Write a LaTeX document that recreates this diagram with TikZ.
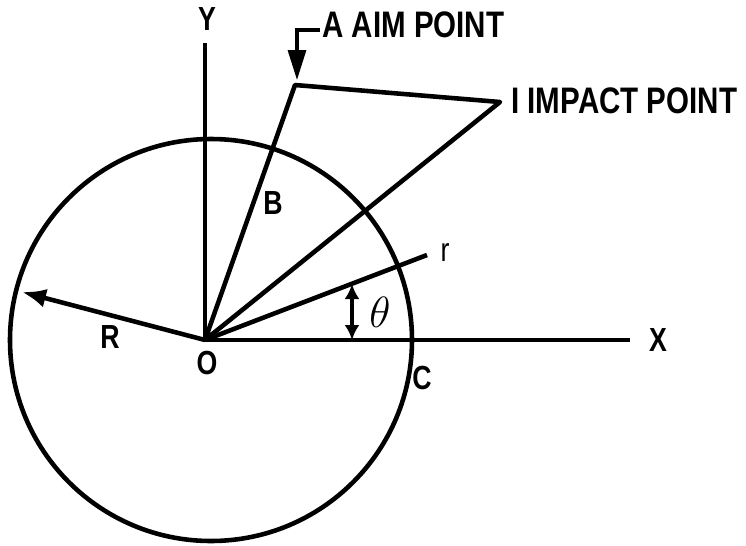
\documentclass[tikz,border=0pt]{standalone}
\usepackage{fontspec}
\newfontfamily\lblfont{Liberation Sans}[FakeStretch=0.8]
\usetikzlibrary{arrows.meta, positioning, calc}

\begin{document}
\begin{tikzpicture}[line width=2.6pt,
    lbl/.style={font=\lblfont\bfseries\fontsize{19}{19}\selectfont, inner sep=1pt},
    tag/.style={font=\lblfont\bfseries\fontsize{21}{21}\selectfont, inner sep=0pt}]
    \useasboundingbox (-4.1,-4.1) rectangle (10.82,6.8);

    % Points
    \coordinate (O) at (0,0);
    \coordinate (Ytop) at (0,5.94);
    \coordinate (Xend) at (8.5,0);
    \coordinate (A) at (1.8,5.1);
    \coordinate (I) at (5.9,4.76);
    \coordinate (rend) at (4.44,1.7);
    \coordinate (Rtip) at (-3.66,0.96);

    % Circle
    \draw (0.12,0) circle (4.02);

    % Axes
    \draw (O) -- (Ytop);
    \draw (O) -- (Xend);
    \node[lbl] (ylab) at (0.04,6.42) {Y};
    \node[lbl, right=0.3 of Xend] (xlab) {X};

    % Aim point and impact point
    \draw[line join=round] (O) -- (A) -- (I) -- cycle;
    \node[tag, anchor=west] (aimlab) at (2.3,6.3) {A AIM POINT};
    \coordinate (bend) at (1.84,6.2);
    \coordinate (Atip) at (1.84,5.2);
    \draw[line width=1.8pt, -{Triangle[length=0.6cm,width=0.36cm]}]
        (aimlab.west |- bend) -- (bend) -- (Atip);
    \node[tag, anchor=west] (implab) at (6.08,4.78) {I IMPACT POINT};

    % r line and angle
    \draw (O) -- (rend);
    \node[font=\lblfont\fontsize{19}{19}\selectfont, anchor=west] (rlab) at (4.55,1.74) {r};
    \coordinate (tlow) at (2.94,0);
    \coordinate (thigh) at (2.94,1.12);
    \draw[line width=1.8pt, {Latex[length=0.3cm,width=0.3cm]}-{Latex[length=0.3cm,width=0.3cm]}]
        (thigh) -- (tlow);
    \node[font=\fontsize{24}{24}\selectfont] (thlab) at (3.5,0.56) {$\theta$};

    % Radius
    \draw[-{Latex[length=0.48cm,width=0.38cm]}] (O) -- (Rtip);
    \node[lbl] (Rlab) at (-1.9,0.06) {R};
    \node[lbl] (Olab) at (0.04,-0.46) {O};
    \node[lbl] (Clab) at (4.34,-0.76) {C};
    \node[lbl] (Blab) at (1.36,2.74) {B};
\end{tikzpicture}
\end{document}
